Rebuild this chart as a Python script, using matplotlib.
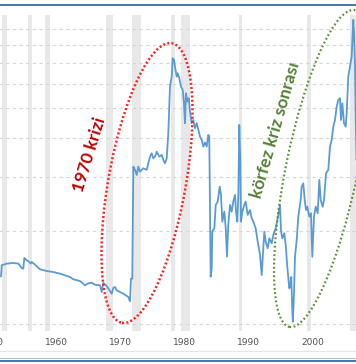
import matplotlib
matplotlib.use("Agg")
import matplotlib.pyplot as plt
from matplotlib.patches import Ellipse, Rectangle
from matplotlib.lines import Line2D
from matplotlib.ticker import NullLocator
import matplotlib.transforms as mtransforms

# ---------------- data ----------------
years_1950s = [1951.0, 1953.45, 1953.56, 1954.34, 1955.37, 1956.15, 1956.68, 1956.93, 1957.09,
               1957.46, 1957.87, 1958.09, 1958.24, 1958.76, 1959.54]
price_1950s = [14.3, 14.27, 15.49, 15.68, 15.76, 15.68, 15.18, 15.10, 16.36,
               16.08, 15.88, 15.68, 15.88, 15.56, 15.03]

years_1960s = [1960.59, 1961.62, 1962.67, 1964.23, 1964.74, 1965.79, 1966.57, 1966.93, 1967.62,
               1968.13, 1968.92, 1969.18, 1969.43, 1969.96, 1970.74, 1970.99, 1971.26, 1971.53,
               1972.56, 1973.34, 1973.60, 1973.76, 1973.96]
price_1960s = [14.84, 14.73, 14.55, 14.19, 13.95, 13.78, 13.34, 13.50, 13.60,
               13.40, 13.34, 12.69, 13.60, 13.27, 12.53, 13.08, 13.18, 12.85,
               12.53, 12.23, 11.84, 14.02, 14.02]

years_1970s = [1974.12, 1974.38, 1974.65, 1974.90, 1975.17, 1975.68, 1976.21, 1976.46, 1976.73,
               1976.99, 1977.24, 1977.51, 1977.78, 1978.18, 1978.56, 1978.81, 1979.07, 1979.34,
               1979.59, 1979.85]
price_1970s = [32.30, 31.52, 30.37, 32.30, 31.12, 31.92, 31.52, 33.13, 34.80,
               35.69, 34.39, 34.80, 36.12, 34.80, 35.25, 33.95, 33.13, 34.39,
               41.44, 58.65]

years_1980s = [1980.12, 1980.27, 1980.48, 1980.63, 1980.90, 1981.06, 1981.31, 1981.57, 1981.84,
               1982.04, 1982.20, 1982.35, 1982.56, 1982.78, 1982.98, 1983.24, 1983.49, 1983.76,
               1984.03, 1984.28, 1984.54, 1984.81, 1985.06, 1985.32, 1985.59, 1985.84, 1985.99]
price_1980s = [63.19, 72.46, 71.55, 68.07, 63.19, 64.80, 62.44, 58.65, 57.22,
               51.82, 44.65, 55.82, 52.45, 53.80, 48.67, 44.65, 45.75, 43.01,
               44.65, 42.46, 40.40, 39.42, 37.50, 38.70, 37.50, 40.92, 40.40]

years_late80s = [1986.21, 1986.37, 1986.46, 1986.78, 1987.00, 1987.31, 1987.62, 1987.82, 1988.03,
                 1988.34, 1988.56, 1988.76, 1988.96, 1989.23, 1989.49, 1989.74, 1990.01, 1990.17,
                 1990.37, 1990.53, 1990.68, 1990.84, 1990.95]
price_late80s = [14.23, 15.15, 19.90, 20.41, 24.28, 24.89, 27.83, 26.16, 21.44,
                 23.10, 20.41, 16.51, 20.92, 24.28, 23.10, 24.89, 26.16, 23.10,
                 21.44, 26.16, 44.09, 33.53, 21.44]

years_1990s = [1991.15, 1991.46, 1991.68, 1991.99, 1992.35, 1992.62, 1992.87, 1993.24, 1993.56,
               1993.92, 1994.18, 1994.43, 1994.59, 1994.81, 1995.12, 1995.37, 1995.74, 1996.00,
               1996.37, 1996.68]
price_1990s = [23.10, 24.28, 24.89, 22.54, 23.39, 21.99, 21.44, 20.41, 18.47,
               16.72, 14.41, 17.58, 19.90, 18.47, 17.58, 18.94, 18.25, 19.42,
               20.41, 21.99]

years_late90s = [1997.04, 1997.20, 1997.40, 1997.71, 1997.93, 1998.18, 1998.49, 1998.60, 1998.80,
                 1998.95, 1999.05, 1999.23, 1999.38, 1999.65, 1999.90, 2000.27, 2000.43, 2000.68,
                 2000.90, 2001.10, 2001.31, 2001.62, 2001.88, 2002.09, 2002.35, 2002.62, 2002.93]
price_late90s = [24.28, 20.0, 18.94, 19.66, 18.02, 15.33, 13.05, 13.21, 14.2,
                 11.24, 10.17, 12.57, 16.51, 18.70, 22.25, 25.20, 27.83, 28.54,
                 25.20, 23.39, 23.97, 22.25, 22.83, 16.51, 22.25, 23.97, 22.83]

years_2000s = [2003.18, 2003.40, 2003.71, 2003.92, 2004.23, 2004.59, 2004.85, 2005.12, 2005.37,
               2005.63, 2005.90, 2006.15, 2006.42, 2006.57, 2006.78, 2007.04, 2007.31, 2007.46,
               2007.71, 2007.98, 2008.24, 2008.49, 2008.60, 2008.75, 2008.88, 2009.0, 2009.2]
price_2000s = [29.25, 25.20, 23.97, 25.20, 30.75, 31.52, 37.50, 39.42, 43.53,
               45.75, 50.53, 53.12, 53.80, 45.75, 51.82, 44.65, 43.53, 48.10,
               63.19, 68.07, 73.34, 96.4, 88.0, 70.0, 45.0, 34.0, 36.0]

recession_start = [1948.9, 1953.58, 1957.67, 1960.33, 1969.92, 1973.92, 1980.08, 1981.58,
                   1990.58, 2001.25, 2007.95]
recession_end = [1949.8, 1954.37, 1958.33, 1961.17, 1970.92, 1975.25, 1980.58, 1982.92,
                 1991.17, 2001.92, 2009.5]

xtick_years = [1950, 1960, 1970, 1980, 1990, 2000]
grid_values = [10, 20, 30, 40, 50, 60, 70, 80, 90]

label_1970 = "1970 krizi"
label_gulf = "körfez kriz sonrası"

years = (years_1950s + years_1960s + years_1970s + years_1980s + years_late80s
         + years_1990s + years_late90s + years_2000s)
prices = (price_1950s + price_1960s + price_1970s + price_1980s + price_late80s
          + price_1990s + price_late90s + price_2000s)

# ---------------- figure ----------------
W, H = 356, 364
fig = plt.figure(figsize=(W / 100, H / 100), dpi=100)
fig.patch.set_facecolor("white")

ax = fig.add_axes([-0.13107, 0.08929, 1.18652, 0.86951])
ax.set_yscale("log")
ax.set_xlim(1946, 2012)
ax.set_ylim(9.457, 100)

for s, e in zip(recession_start, recession_end):
    ax.axvspan(s, e, color="#e8e8e8", lw=0, zorder=0.2)

ax.plot(years, prices, color="#5b9bd5", lw=1.3, zorder=3, solid_joinstyle="round")

ax.set_yticks(grid_values)
ax.yaxis.set_minor_locator(NullLocator())
ax.set_yticklabels([])
ax.grid(axis="y", color="#d6d6d6", ls=(0, (3, 3)), lw=0.8)
ax.grid(axis="x", visible=False)
ax.set_axisbelow(True)
for sp in ax.spines.values():
    sp.set_visible(False)

ax.set_xticks(xtick_years)
ax.set_xticklabels([str(y) for y in xtick_years])
ax.tick_params(axis="x", length=0, pad=4.5, labelsize=6.5, labelcolor="#505050")
ax.tick_params(axis="y", length=0)
offset = mtransforms.ScaledTranslation(2.5 / 100, 0, fig.dpi_scale_trans)
for lab in ax.get_xticklabels():
    lab.set_ha("left")
    lab.set_transform(lab.get_transform() + offset)

# ---------------- frame decorations ----------------
def fy(py):
    return 1 - py / H

fig.add_artist(Rectangle((0, fy(6)), 1, 2 / H, transform=fig.transFigure,
                         color="#4a79a8", lw=0))
fig.add_artist(Line2D([0, 1], [fy(351), fy(351)], transform=fig.transFigure,
                      color="#e6e6e6", lw=0.8))
fig.add_artist(Line2D([0, 1], [fy(358.2), fy(358.2)], transform=fig.transFigure,
                      color="#a9bfd6", lw=0.7))
fig.add_artist(Rectangle((0, fy(362.3)), 1, 2.6 / H, transform=fig.transFigure,
                         color="#4a79a8", lw=0))

# ---------------- annotations ----------------
red_ell = Ellipse((147 / 100, (H - 183) / 100), width=2 * 0.387, height=2 * 1.42, angle=-10.1,
                  transform=fig.dpi_scale_trans, fill=False, ec="#ff2020", lw=1.8,
                  ls=(0, (0.8, 0.9)))
fig.add_artist(red_ell)
green_ell = Ellipse((322 / 100, (H - 168.5) / 100), width=2 * 0.359, height=2 * 1.617, angle=-11.65,
                    transform=fig.dpi_scale_trans, fill=False, ec="#5f8f35", lw=1.6,
                    ls=(0, (0.8, 1.1)))
fig.add_artist(green_ell)

fig.text(89.5 / W, fy(155), label_1970, rotation=73, color="#c00000", fontsize=12.5,
         fontweight="bold", family=["Lato", "DejaVu Sans"], ha="center", va="center",
         rotation_mode="anchor")
fig.text(276 / W, fy(129.5), label_gulf, rotation=74, color="#548235", fontsize=12.5,
         fontweight="bold", family=["Lato", "DejaVu Sans"], ha="center", va="center",
         rotation_mode="anchor")

fig.savefig("out.png", dpi=100)
